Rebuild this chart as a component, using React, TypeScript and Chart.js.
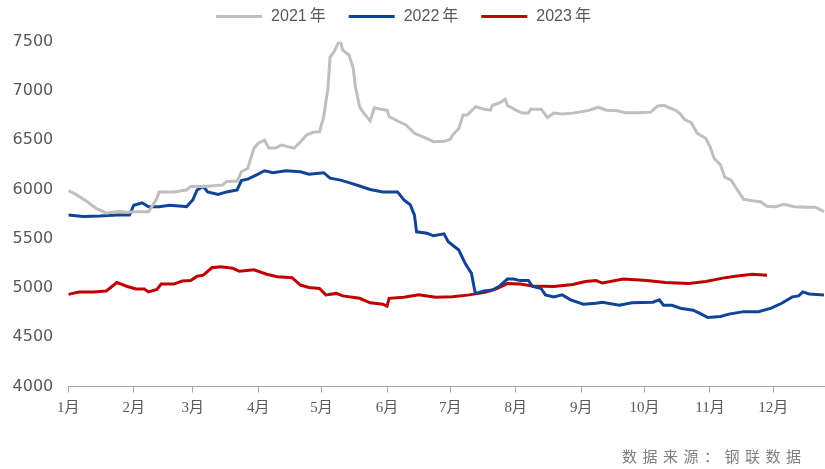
import React, { useEffect, useRef } from 'react';
import { Chart, registerables } from 'chart.js';

Chart.register(...registerables);

// Day-of-year where each month begins, and the month labels shown under them
const monthStarts = [0, 31, 59, 90, 120, 151, 181, 212, 243, 273, 304, 334];
const monthLabels = ['1月', '2月', '3月', '4月', '5月', '6月', '7月', '8月', '9月', '10月', '11月', '12月'];

// Price axis range
const yMin = 4000;
const yMax = 7500;
const yStep = 500;

const seriesNames = ['2021年', '2022年', '2023年'];
const seriesColors = ['#BFBFBF', '#0F4496', '#C00000'];

// 2021
const days2021 = [0, 4, 9, 13, 18, 24, 28, 32, 38, 40, 42, 43, 50, 56, 58, 64, 73, 75, 80, 82, 85, 88, 90, 93, 95, 98, 101, 104, 107, 110, 113, 116, 119, 121, 123, 124, 126, 128, 129, 130, 133, 135, 136, 138, 140, 143, 145, 148, 151, 152, 156, 160, 164, 168, 173, 178, 181, 182, 185, 187, 189, 193, 197, 200, 201, 204, 207, 208, 212, 215, 218, 219, 224, 227, 230, 234, 239, 242, 247, 251, 255, 260, 264, 270, 276, 279, 282, 284, 288, 290, 292, 295, 298, 302, 304, 306, 309, 311, 314, 317, 320, 324, 328, 331, 335, 339, 344, 350, 354, 358];
const price2021 = [5990, 5945, 5875, 5810, 5760, 5780, 5770, 5775, 5775, 5840, 5910, 5975, 5975, 5995, 6030, 6030, 6045, 6080, 6085, 6180, 6215, 6420, 6470, 6500, 6420, 6420, 6450, 6435, 6420, 6485, 6555, 6580, 6585, 6740, 7025, 7345, 7400, 7495, 7495, 7415, 7365, 7230, 7045, 6840, 6775, 6695, 6830, 6815, 6805, 6740, 6695, 6655, 6570, 6535, 6485, 6490, 6510, 6550, 6620, 6755, 6755, 6840, 6815, 6805, 6855, 6875, 6915, 6855, 6805, 6775, 6775, 6815, 6815, 6730, 6775, 6765, 6775, 6785, 6805, 6835, 6805, 6800, 6780, 6780, 6785, 6845, 6855, 6835, 6800, 6765, 6710, 6680, 6570, 6520, 6435, 6315, 6250, 6125, 6095, 5995, 5900, 5885, 5875, 5830, 5825, 5850, 5825, 5820, 5820, 5775];

// 2022
const days2022 = [0, 7, 15, 23, 29, 31, 35, 38, 43, 48, 54, 56, 59, 61, 64, 66, 71, 75, 80, 82, 85, 89, 93, 97, 103, 110, 114, 121, 124, 129, 133, 138, 143, 149, 156, 159, 162, 164, 165, 170, 173, 178, 180, 185, 188, 191, 192.5, 193, 197, 201, 204, 208, 211, 214, 218, 220, 224, 226, 230, 234, 238, 244, 250, 253, 261, 267, 277, 280, 282, 286, 290, 296, 299, 303, 309, 313, 320, 327, 333, 338, 343, 346, 348, 351, 358];
const price2022 = [5740, 5725, 5730, 5740, 5740, 5840, 5865, 5825, 5825, 5840, 5830, 5825, 5895, 5995, 6030, 5975, 5950, 5975, 5995, 6090, 6105, 6145, 6190, 6170, 6190, 6180, 6155, 6170, 6115, 6095, 6070, 6035, 6000, 5975, 5975, 5895, 5845, 5740, 5570, 5555, 5530, 5550, 5470, 5385, 5250, 5150, 4980, 4945, 4970, 4980, 5015, 5090, 5090, 5075, 5075, 5015, 4995, 4930, 4910, 4930, 4880, 4835, 4845, 4855, 4825, 4850, 4855, 4880, 4825, 4825, 4795, 4775, 4745, 4700, 4710, 4735, 4760, 4760, 4795, 4845, 4910, 4920, 4960, 4940, 4930];

// 2023
const days2023 = [0, 5, 12, 18, 23, 28, 32, 36, 38, 42, 44, 50, 54, 58, 61, 64, 68, 72, 78, 81, 88, 94, 99, 106, 110, 114, 119, 122, 127, 130, 138, 143, 149, 151, 152, 159, 166, 174, 182, 190, 198, 203, 208, 214, 220, 230, 239, 245, 250, 253, 263, 274, 283, 294, 302, 310, 316, 324, 331];
const price2023 = [4935, 4960, 4960, 4970, 5055, 5015, 4990, 4990, 4960, 4985, 5040, 5040, 5070, 5075, 5120, 5130, 5205, 5215, 5200, 5170, 5185, 5140, 5115, 5105, 5030, 5005, 4995, 4930, 4945, 4920, 4895, 4850, 4835, 4815, 4895, 4905, 4930, 4905, 4910, 4930, 4960, 4995, 5045, 5040, 5020, 5015, 5035, 5065, 5075, 5050, 5090, 5075, 5055, 5045, 5065, 5100, 5120, 5140, 5130];

const sourceNote = '数据来源：钢联数据';

const toPoints = (days: number[], prices: number[]) => days.map((d, i) => ({ x: d, y: prices[i] }));

// Centered legend row above the plot: a short colored bar followed by the series name
const topLegend = {
  id: 'topLegend',
  afterDraw(chart: any) {
    const ctx = chart.ctx as CanvasRenderingContext2D;
    ctx.save();
    ctx.font = '16px "Liberation Sans", Arial, "Noto Sans CJK SC", sans-serif';
    const barW = 46;
    const gap = 9;
    const charGap = 3;
    const itemGap = 23;
    const items = chart.data.datasets.map((ds: any) => {
      const label = ds.label as string;
      const head = label.slice(0, -1);
      const tail = label.slice(-1);
      const hw = ctx.measureText(head).width;
      const tw = ctx.measureText(tail).width;
      return { head, tail, hw, color: ds.borderColor as string, w: hw + charGap + tw };
    });
    const total = items.reduce((s: number, it: any) => s + barW + gap + it.w, 0) + itemGap * (items.length - 1);
    let x = chart.width / 2 - 9 - total / 2;
    const y = 16.5;
    ctx.textBaseline = 'middle';
    ctx.textAlign = 'left';
    items.forEach((it: any) => {
      ctx.fillStyle = it.color;
      ctx.fillRect(x, y - 1.5, barW, 3);
      x += barW + gap;
      ctx.fillStyle = '#595959';
      ctx.fillText(it.head, x, y);
      ctx.fillText(it.tail, x + it.hw + charGap, y);
      x += it.w + itemGap;
    });
    ctx.restore();
  },
};

export default function App() {
  const canvasRef = useRef<HTMLCanvasElement | null>(null);

  useEffect(() => {
    if (!canvasRef.current) return;
    const series = [
      toPoints(days2021, price2021),
      toPoints(days2022, price2022),
      toPoints(days2023, price2023),
    ];
    const chart = new Chart(canvasRef.current, {
      type: 'line',
      data: {
        datasets: series.map((data, i) => ({
          label: seriesNames[i],
          data,
          borderColor: seriesColors[i],
          backgroundColor: seriesColors[i],
          borderWidth: 3,
          pointRadius: 0,
          tension: 0,
          fill: false,
        })),
      },
      options: {
        animation: false,
        responsive: false,
        layout: { padding: { top: 41.7, left: 0, right: 0, bottom: 0 } },
        plugins: {
          legend: { display: false },
          tooltip: { enabled: false },
        },
        scales: {
          x: {
            type: 'linear',
            min: 0,
            max: 358.5,
            afterBuildTicks: (scale: any) => {
              scale.ticks = monthStarts.map((v) => ({ value: v }));
            },
            afterFit: (scale: any) => {
              scale.height = 82.5;
            },
            ticks: {
              autoSkip: false,
              maxRotation: 0,
              padding: 7,
              color: '#595959',
              font: { family: '"Liberation Serif", "Noto Sans CJK SC", serif', size: 15 },
              callback: (v: any) => monthLabels[monthStarts.indexOf(Number(v))] ?? '',
            },
            grid: {
              drawOnChartArea: false,
              drawTicks: true,
              tickLength: 6,
              color: '#A6A6A6',
              lineWidth: 1,
            },
            border: { display: true, color: '#A6A6A6', width: 1 },
          },
          y: {
            min: yMin,
            max: yMax,
            afterFit: (scale: any) => {
              scale.width = 68.3;
            },
            ticks: {
              stepSize: yStep,
              padding: 15,
              color: '#595959',
              font: { family: '"DejaVu Sans", sans-serif', size: 16 },
              callback: (v: any) => String(v),
            },
            grid: { display: false, drawTicks: false },
            border: { display: false },
          },
        },
      },
      plugins: [topLegend],
    } as any);
    return () => chart.destroy();
  }, []);

  return (
    <div style={{ position: 'fixed', left: 0, top: 0, width: 825, height: 469, background: '#fff' }}>
      <canvas ref={canvasRef} width={825} height={469} style={{ display: 'block' }} />
      <div
        style={{
          position: 'absolute',
          left: 622,
          top: 445,
          fontFamily: '"Noto Sans CJK SC", sans-serif',
          fontSize: 15,
          letterSpacing: 5.5,
          color: '#7F7F7F',
          whiteSpace: 'nowrap',
        }}
      >
        {sourceNote}
      </div>
    </div>
  );
}
